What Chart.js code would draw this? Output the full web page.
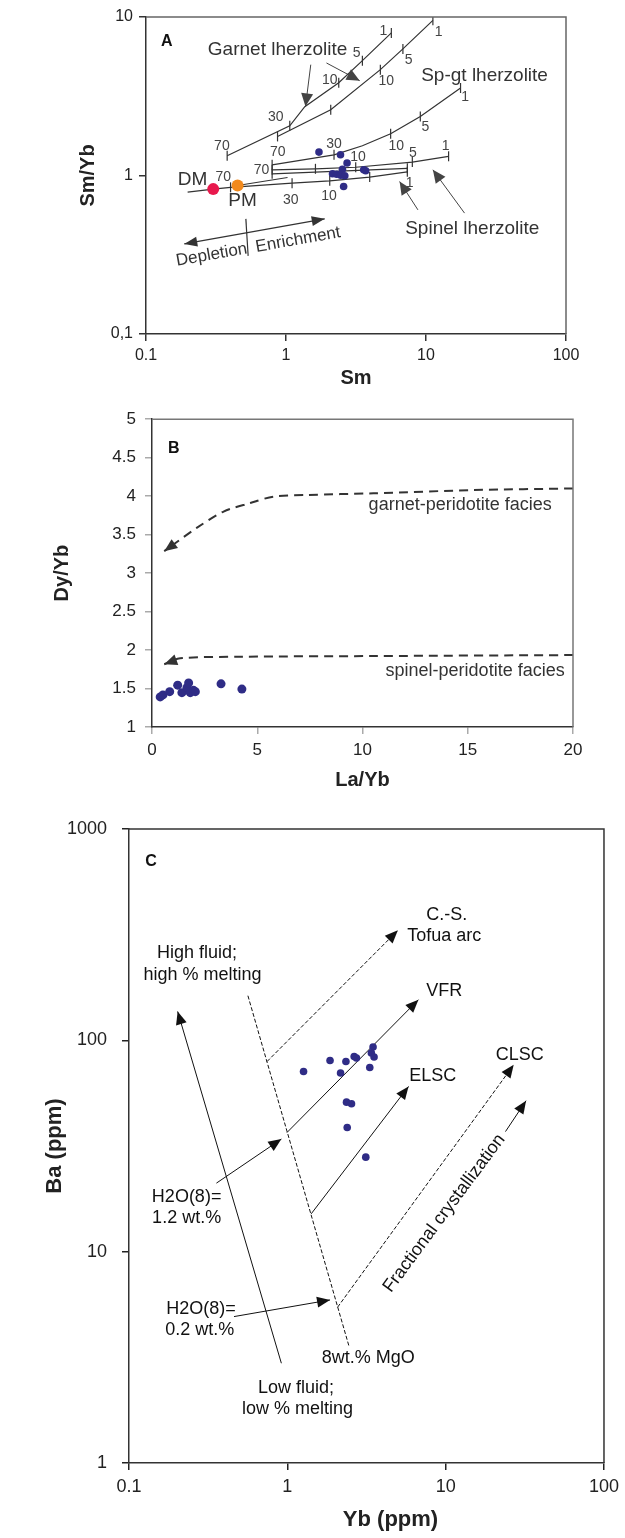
<!DOCTYPE html>
<html>
<head>
<meta charset="utf-8">
<title>Sm/Yb vs Sm, Dy/Yb vs La/Yb, Ba vs Yb</title>
<script src="https://cdn.jsdelivr.net/npm/chart.js"></script>
<style>
  body { margin: 0; background: #fff; }
  canvas { position: absolute; left: 0; }
</style>
</head>
<body>
<canvas id="chartA" style="top:0px" width="625" height="400"></canvas>
<canvas id="chartB" style="top:400px" width="625" height="400"></canvas>
<canvas id="chartC" style="top:800px" width="625" height="738"></canvas>

<script>
// ---------- panel A : Sm/Yb vs Sm (log-log) ----------
var aTickValuesX = [0.1, 1, 10, 100];
var aTickLabelsX = ['0.1', '1', '10', '100'];
var aTickValuesY = [0.1, 1, 10];
var aTickLabelsY = ['0,1', '1', '10'];

var aSampleSm   = [1.72, 2.45, 2.73, 2.53, 2.15, 2.30, 2.46, 2.63, 3.59, 3.71, 2.58];
var aSampleSmYb = [1.405, 1.351, 1.198, 1.094, 1.025, 1.018, 1.003, 0.996, 1.086, 1.071, 0.852];
var aDmSm = [0.302], aDmSmYb = [0.8205];
var aPmSm = [0.451], aPmSmYb = [0.865];

// melting curves, ticks = melt % marks
var aGarnet1Sm    = [0.380, 1.064, 1.362, 2.381, 3.513, 5.655];
var aGarnet1SmYb  = [1.332, 2.06, 2.716, 3.852, 5.303, 7.94];
var aGarnet1Ticks = [1, 1, 0, 1, 1, 1];
var aGarnet2Sm    = [0.870, 2.087, 4.72, 6.84, 11.2];
var aGarnet2SmYb  = [1.764, 2.60, 4.653, 6.29, 9.53];
var aGarnet2Ticks = [1, 1, 1, 1, 1];
var aSpGtSm    = [0.796, 2.203, 3.513, 5.59, 9.107, 17.65];
var aSpGtSmYb  = [1.168, 1.351, 1.540, 1.834, 2.36, 3.565];
var aSpGtTicks = [1, 1, 0, 1, 1, 1];
var aSpinel1Sm    = [0.796, 1.623, 3.147, 7.986, 14.5];
var aSpinel1SmYb  = [1.086, 1.102, 1.127, 1.215, 1.322];
var aSpinel1Ticks = [1, 1, 1, 1, 1];
var aSpinel2Sm    = [0.796, 7.357];
var aSpinel2SmYb  = [1.025, 1.11];
var aSpinel2Ticks = [1, 1];
var aDmCurveSm    = [0.1983, 0.302, 0.4018, 1.105, 2.053, 3.961, 7.357];
var aDmCurveSmYb  = [0.785, 0.8205, 0.842, 0.895, 0.926, 0.977, 1.055];
var aDmCurveTicks = [0, 0, 1, 1, 1, 1, 1];
var aPmLinkSm   = [0.451, 1.025];
var aPmLinkSmYb = [0.865, 0.971];

var aCurveLabels = [
  ['70', 0.3484, 1.540], ['30', 0.8457, 2.349], ['10', 2.053, 4.023], ['5', 3.199, 5.958], ['1', 4.96, 8.123],
  ['70', 0.874, 1.397], ['10', 5.21, 3.965], ['5', 7.51, 5.38], ['1', 12.3, 8.05],
  ['30', 2.203, 1.586], ['10', 6.14, 1.525], ['5', 9.886, 2.01], ['1', 19.07, 3.128],
  ['70', 0.6686, 1.075], ['10', 3.268, 1.299], ['5', 8.065, 1.385], ['1', 13.8, 1.525],
  ['70', 0.356, 0.977], ['30', 1.082, 0.702], ['10', 2.03, 0.744], ['1', 7.64, 0.895]
];
var aNames = [
  ['Garnet lherzolite', 0.870, 6.225], ['Sp-gt lherzolite', 26.2, 4.28],
  ['Spinel lherzolite', 21.4, 0.4586], ['DM', 0.2153, 0.9393], ['PM', 0.4894, 0.692]
];
var aTrendNames = [['Depletion', 0.294, 0.3155, -10], ['Enrichment', 1.22, 0.3925, -10]];
var aArrowSm   = [[1.503, 1.378], [1.945, 3.361], [8.756, 6.48], [18.85, 11.2]];
var aArrowSmYb = [[5.004, 2.729], [5.129, 3.965], [0.607, 0.9165], [0.579, 1.086]];
var aTrendSm = [0.1876, 1.891], aTrendSmYb = [0.3703, 0.5326];
var aDividerSm = [0.5168, 0.5365], aDividerSmYb = [0.5326, 0.311];

// ---------- panel B : Dy/Yb vs La/Yb ----------
var bTickValuesX = [0, 5, 10, 15, 20];
var bTickLabelsX = ['0', '5', '10', '15', '20'];
var bTickValuesY = [1, 1.5, 2, 2.5, 3, 3.5, 4, 4.5, 5];
var bTickLabelsY = ['1', '1.5', '2', '2.5', '3', '3.5', '4', '4.5', '5'];
var bLaYb = [0.39, 0.52, 0.84, 1.22, 1.42, 1.66, 1.74, 1.82, 1.97, 2.06, 3.28, 4.27];
var bDyYb = [1.391, 1.417, 1.459, 1.544, 1.446, 1.510, 1.573, 1.446, 1.476, 1.459, 1.561, 1.493];
var bGarnetLaYb = [20, 15.27, 10.52, 7.36, 5.77, 4.67, 3.40, 2.14, 0.58];
var bGarnetDyYb = [4.10, 4.079, 4.037, 4.015, 3.994, 3.91, 3.80, 3.59, 3.285];
var bSpinelLaYb = [20, 10.52, 4.19, 1.34, 0.58];
var bSpinelDyYb = [1.935, 1.922, 1.913, 1.892, 1.815];
var bNames = [['garnet-peridotite facies', 14.64, 3.888], ['spinel-peridotite facies', 15.35, 1.731]];

// ---------- panel C : Ba vs Yb (log-log) ----------
var cTickValuesX = [0.1, 1, 10, 100];
var cTickLabelsX = ['0.1', '1', '10', '100'];
var cTickValuesY = [1, 10, 100, 1000];
var cTickLabelsY = ['1', '10', '100', '1000'];
var cYb = [1.266, 1.861, 2.345, 2.169, 2.644, 2.733, 3.317, 3.479, 3.394, 3.53, 2.365, 2.543, 2.389, 3.13];
var cBa = [71.2, 80.3, 79.4, 70.0, 83.9, 82.5, 74.4, 93.0, 87.1, 83.4, 51.0, 50.1, 38.7, 28.0];
var cFluidYb = [0.917, 0.2029], cFluidBa = [2.965, 137.0];
var cMgoYb = [0.5637, 2.459], cMgoBa = [162.6, 3.542];
var cTofuaYb = [0.7447, 4.991], cTofuaBa = [79.4, 331.5];
var cVfrYb = [0.994, 6.73], cVfrBa = [36.6, 155.7];
var cElscYb = [1.415, 5.83], cElscBa = [15.1, 60.5];
var cClscYb = [2.077, 26.9], cClscBa = [5.46, 76.6];
var cWater12Yb = [0.3565, 0.917], cWater12Ba = [21.1, 34.1];
var cWater02Yb = [0.4603, 1.861], cWater02Ba = [4.93, 5.91];
var cFracYb = [23.87, 32.2], cFracBa = [37.0, 51.8];
var cNames = [
  ['C.-S.', 10.17, 393], ['Tofua arc', 9.80, 310], ['High fluid;', 0.2686, 259], ['high % melting', 0.2912, 204.4],
  ['VFR', 9.80, 170.4], ['CLSC', 29.4, 85.5], ['ELSC', 8.28, 68.0],
  ['H2O(8)=', 0.2312, 18.2], ['1.2 wt.%', 0.2312, 14.4], ['H2O(8)=', 0.2845, 5.34], ['0.2 wt.%', 0.280, 4.26],
  ['8wt.% MgO', 3.245, 3.13], ['Low fluid;', 1.136, 2.258], ['low % melting', 1.16, 1.796],
  ['Fractional crystallization', 9.80, 15.2, -53.4]
];

// ---------- helpers ----------
var FONT = '"Liberation Sans", Arial, Helvetica, sans-serif';
var NAVY = '#2f2c86';

function pairs(xs, ys) {
  return xs.map(function (x, i) { return { x: x, y: ys[i] }; });
}

function tickText(values, labels) {
  return function (v) {
    for (var i = 0; i < values.length; i++) {
      if (Math.abs(values[i] - v) < 1e-9 * Math.max(1, values[i])) return labels[i];
    }
    return '';
  };
}

function axis(type, min, max, values, labels, isX, fit, size, pad, tickColor) {
  return {
    type: type, min: min, max: max,
    afterBuildTicks: function (s) { s.ticks = values.map(function (v) { return { value: v }; }); },
    afterFit: function (s) { if (isX) s.height = fit; else s.width = fit; },
    ticks: {
      callback: tickText(values, labels), color: '#222', padding: pad,
      font: { family: FONT, size: size }, autoSkip: false, maxRotation: 0, minRotation: 0
    },
    grid: { drawOnChartArea: false, drawTicks: true, tickLength: 7, color: tickColor, lineWidth: 1.5 },
    border: { display: true, color: '#333', width: 1.5 }
  };
}

function dots(xs, ys, color, r) {
  return { data: pairs(xs, ys), showLine: false, pointRadius: r, pointBackgroundColor: color,
           pointBorderColor: color, pointBorderWidth: 0 };
}

function line(xs, ys, extra) {
  var ds = { data: pairs(xs, ys), showLine: true, borderColor: '#333', borderWidth: 1.2,
             pointRadius: 0, fill: false, tension: 0 };
  for (var k in extra) ds[k] = extra[k];
  return ds;
}

function meltCurve(xs, ys, ticks) {
  return line(xs, ys, { pointStyle: 'line', pointRotation: 90, pointBorderColor: '#333', pointBorderWidth: 1.2,
                        pointRadius: ticks.map(function (t) { return t ? 5 : 0; }) });
}

function drawHead(ctx, from, to, len, half, color) {
  var a = Math.atan2(to.y - from.y, to.x - from.x);
  ctx.save();
  ctx.translate(to.x, to.y);
  ctx.rotate(a);
  ctx.fillStyle = color;
  ctx.beginPath();
  ctx.moveTo(0, 0);
  ctx.lineTo(-len, half);
  ctx.lineTo(-len, -half);
  ctx.closePath();
  ctx.fill();
  ctx.restore();
}

// arrowheads, frame, notes and axis titles
var figurePlugin = {
  id: 'figure',
  afterDatasetsDraw: function (chart) {
    var ctx = chart.ctx;
    chart.data.datasets.forEach(function (ds, i) {
      if (!ds.head) return;
      var p = chart.getDatasetMeta(i).data, n = p.length;
      if (ds.head.end) drawHead(ctx, p[n - 2], p[n - 1], ds.head.len, ds.head.half, ds.borderColor);
      if (ds.head.start) drawHead(ctx, p[1], p[0], ds.head.len, ds.head.half, ds.borderColor);
    });
  },
  afterDraw: function (chart, args, opts) {
    var ctx = chart.ctx, area = chart.chartArea;
    var sx = chart.scales.x, sy = chart.scales.y;
    ctx.save();
    ctx.strokeStyle = opts.frameColor || '#666';
    ctx.lineWidth = 1.5;
    ctx.beginPath();
    ctx.moveTo(area.left, area.top);
    ctx.lineTo(area.right, area.top);
    ctx.lineTo(area.right, area.bottom);
    ctx.stroke();

    ctx.textAlign = 'center';
    ctx.textBaseline = 'middle';
    (opts.notes || []).forEach(function (group) {
      ctx.font = group.font;
      ctx.fillStyle = group.color || '#222';
      group.items.forEach(function (it) {
        var x = sx.getPixelForValue(it[1]), y = sy.getPixelForValue(it[2]);
        ctx.save();
        ctx.translate(x, y);
        if (it[3]) ctx.rotate(it[3] * Math.PI / 180);
        ctx.fillText(it[0], 0, 0);
        ctx.restore();
      });
    });

    ctx.font = opts.titleFont;
    ctx.fillStyle = '#222';
    var cx = (area.left + area.right) / 2, cy = (area.top + area.bottom) / 2;
    ctx.fillText(opts.xTitle.text, cx + (opts.xTitle.dx || 0), area.bottom + opts.xTitle.dy);
    ctx.save();
    ctx.translate(area.left + opts.yTitle.dx, cy);
    ctx.rotate(-Math.PI / 2);
    ctx.fillText(opts.yTitle.text, 0, 0);
    ctx.restore();
    ctx.restore();
  }
};

function baseOptions(scales, padding, fig) {
  return {
    responsive: false, animation: false, devicePixelRatio: 1, events: [],
    layout: { padding: padding },
    scales: scales,
    plugins: { legend: { display: false }, tooltip: { enabled: false }, figure: fig }
  };
}

// ---------- chart A ----------
var arrowA = { end: true, len: 13, half: 6 };
var dsA = [
  dots(aDmSm, aDmSmYb, '#e8194d', 6),
  dots(aPmSm, aPmSmYb, '#f28a1d', 6),
  dots(aSampleSm, aSampleSmYb, NAVY, 3.8),
  meltCurve(aGarnet1Sm, aGarnet1SmYb, aGarnet1Ticks),
  meltCurve(aGarnet2Sm, aGarnet2SmYb, aGarnet2Ticks),
  meltCurve(aSpGtSm, aSpGtSmYb, aSpGtTicks),
  meltCurve(aSpinel1Sm, aSpinel1SmYb, aSpinel1Ticks),
  meltCurve(aSpinel2Sm, aSpinel2SmYb, aSpinel2Ticks),
  meltCurve(aDmCurveSm, aDmCurveSmYb, aDmCurveTicks),
  line(aPmLinkSm, aPmLinkSmYb, {}),
  line(aTrendSm, aTrendSmYb, { borderColor: '#333', head: { start: true, end: true, len: 13, half: 5 } }),
  line(aDividerSm, aDividerSmYb, { borderColor: '#333' })
];
aArrowSm.forEach(function (xs, i) {
  dsA.push(line(xs, aArrowSmYb[i], { borderColor: '#444', borderWidth: 1, head: arrowA }));
});

new Chart(document.getElementById('chartA'), {
  type: 'scatter',
  data: { datasets: dsA },
  plugins: [figurePlugin],
  options: baseOptions({
    x: axis('logarithmic', 0.1, 100, aTickValuesX, aTickLabelsX, true, 66, 16, 5, '#333'),
    y: axis('logarithmic', 0.1, 10, aTickValuesY, aTickLabelsY, false, 146, 16, 6, '#333')
  }, { top: 17, right: 59, left: 0, bottom: 0 }, {
    frameColor: '#666',
    titleFont: 'bold 20px ' + FONT,
    xTitle: { text: 'Sm', dy: 44 },
    yTitle: { text: 'Sm/Yb', dx: -58 },
    notes: [
      { font: 'bold 16px ' + FONT, color: '#111', items: [['A', 0.1405, 7.02]] },
      { font: '14px ' + FONT, color: '#444', items: aCurveLabels },
      { font: '19px ' + FONT, color: '#333', items: aNames },
      { font: '17px ' + FONT, color: '#333', items: aTrendNames }
    ]
  })
});

// ---------- chart B ----------
var dashB = { borderColor: '#333', borderWidth: 2, borderDash: [9, 6], tension: 0.3,
              head: { end: true, len: 13, half: 5.5 } };
new Chart(document.getElementById('chartB'), {
  type: 'scatter',
  data: { datasets: [
    dots(bLaYb, bDyYb, NAVY, 4.5),
    line(bGarnetLaYb, bGarnetDyYb, dashB),
    line(bSpinelLaYb, bSpinelDyYb, dashB)
  ] },
  plugins: [figurePlugin],
  options: baseOptions({
    x: axis('linear', 0, 20, bTickValuesX, bTickLabelsX, true, 73, 17, 6, '#aaa'),
    y: axis('linear', 1, 5, bTickValuesY, bTickLabelsY, false, 152, 17, 9, '#aaa')
  }, { top: 13, right: 52, left: 0, bottom: 0 }, {
    frameColor: '#777',
    titleFont: 'bold 20px ' + FONT,
    xTitle: { text: 'La/Yb', dy: 53 },
    yTitle: { text: 'Dy/Yb', dx: -90 },
    notes: [
      { font: 'bold 16px ' + FONT, color: '#111', items: [['B', 1.03, 4.618]] },
      { font: '18px ' + FONT, color: '#333', items: bNames }
    ]
  })
});

// ---------- chart C ----------
var headC = { end: true, len: 13, half: 5.5 };
var solidC = { borderColor: '#111', borderWidth: 1, head: headC };
var dashedC = { borderColor: '#111', borderWidth: 1, borderDash: [4, 2], head: headC };
new Chart(document.getElementById('chartC'), {
  type: 'scatter',
  data: { datasets: [
    dots(cYb, cBa, NAVY, 3.8),
    line(cFluidYb, cFluidBa, solidC),
    line(cMgoYb, cMgoBa, { borderColor: '#111', borderWidth: 1, borderDash: [4, 2] }),
    line(cTofuaYb, cTofuaBa, dashedC),
    line(cVfrYb, cVfrBa, solidC),
    line(cElscYb, cElscBa, solidC),
    line(cClscYb, cClscBa, dashedC),
    line(cWater12Yb, cWater12Ba, solidC),
    line(cWater02Yb, cWater02Ba, solidC),
    line(cFracYb, cFracBa, solidC)
  ] },
  plugins: [figurePlugin],
  options: baseOptions({
    x: axis('logarithmic', 0.1, 100, cTickValuesX, cTickLabelsX, true, 75, 18, 6, '#222'),
    y: axis('logarithmic', 1, 1000, cTickValuesY, cTickLabelsY, false, 129, 18, 15, '#222')
  }, { top: 29, right: 17, left: 0, bottom: 0 }, {
    frameColor: '#333',
    titleFont: 'bold 22px ' + FONT,
    xTitle: { text: 'Yb (ppm)', dy: 57, dx: 24 },
    yTitle: { text: 'Ba (ppm)', dx: -74 },
    notes: [
      { font: 'bold 16px ' + FONT, color: '#111', items: [['C', 0.138, 703]] },
      { font: '18px ' + FONT, color: '#111', items: cNames }
    ]
  })
});
</script>
</body>
</html>
